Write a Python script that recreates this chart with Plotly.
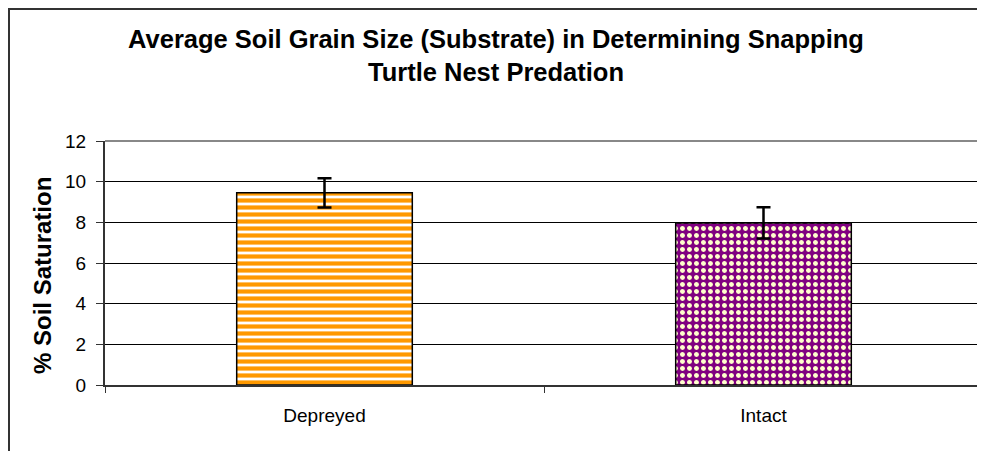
import plotly.graph_objects as go

categories = ['Depreyed', 'Intact']
saturation = [9.45, 7.97]
errors = [0.72, 0.77]

FONT = 'Arial, Liberation Sans, sans-serif'

# plot area in figure pixels (page shows the figure 8px in from the top-left)
L, R, T, B = 97, 10, 133, 74
PW, PH = 985 - L - R, 451 - T - B

f = go.Figure()
f.add_trace(go.Bar(
    x=[categories[0]], y=[saturation[0]],
    error_y=dict(type='data', array=[errors[0]], color='black', thickness=2.5, width=7),
    marker=dict(color='white', line=dict(color='black', width=1.5),
                pattern=dict(shape='-', fgcolor='#FF9900', fgopacity=1, size=7,
                             solidity=0.6, fillmode='overlay')),
    width=0.4, showlegend=False,
))
f.add_trace(go.Bar(
    x=[categories[1]], y=[saturation[1]],
    error_y=dict(type='data', array=[errors[1]], color='black', thickness=2.5, width=7),
    marker=dict(color='#800080', line=dict(color='black', width=1.5),
                pattern=dict(shape='.', fgcolor='#FFFFCC', fgopacity=1, size=7,
                             solidity=0.4, fillmode='overlay')),
    width=0.4, showlegend=False,
))

f.update_layout(
    width=985, height=451,
    margin=dict(l=L, r=R, t=T, b=B),
    paper_bgcolor='white', plot_bgcolor='white',
    font=dict(family=FONT, color='black'),
    barmode='overlay',
    title=dict(
        text='<b>Average Soil Grain Size (Substrate) in Determining Snapping<br>Turtle Nest Predation</b>',
        font=dict(size=25.5, color='black'),
        xref='container', x=488 / 985, xanchor='center',
        yref='container', y=1 - 40 / 451, yanchor='top',
    ),
    xaxis=dict(
        type='category', categoryorder='array', categoryarray=categories,
        range=[-0.5, 1.5],
        tickson='boundaries', ticks='outside', ticklen=6, tickcolor='#333333',
        showline=True, linecolor='#333333', linewidth=2,
        showgrid=False, tickfont=dict(size=19), ticklabelstandoff=12,
    ),
    yaxis=dict(
        range=[0, 12], dtick=2, ticks='outside', ticklen=7, tickcolor='#333333',
        showline=True, linecolor='#333333', linewidth=2,
        showgrid=True, gridcolor='black', gridwidth=1, zeroline=False,
        tickfont=dict(size=19), ticklabelstandoff=6,
    ),
    annotations=[
        dict(text='<b>% Soil Saturation</b>', textangle=-90, font=dict(size=24),
             xref='paper', yref='paper', x=(34 - L) / PW, y=(451 - B - 268) / PH,
             xanchor='center', yanchor='middle', showarrow=False),
    ],
    shapes=[
        # plot area border (top and right)
        dict(type='line', xref='paper', yref='paper', x0=0, x1=1, y0=1, y1=1,
             line=dict(color='#888888', width=2)),
        dict(type='line', xref='paper', yref='paper', x0=1, x1=1, y0=0, y1=1,
             line=dict(color='#888888', width=2)),
        # chart outer border
        dict(type='rect', xref='paper', yref='paper',
             x0=(1 - L) / PW, x1=1.2, y0=-0.4, y1=(451 - B - 1) / PH,
             line=dict(color='#333333', width=2)),
    ],
)

f.write_html('out.html')
